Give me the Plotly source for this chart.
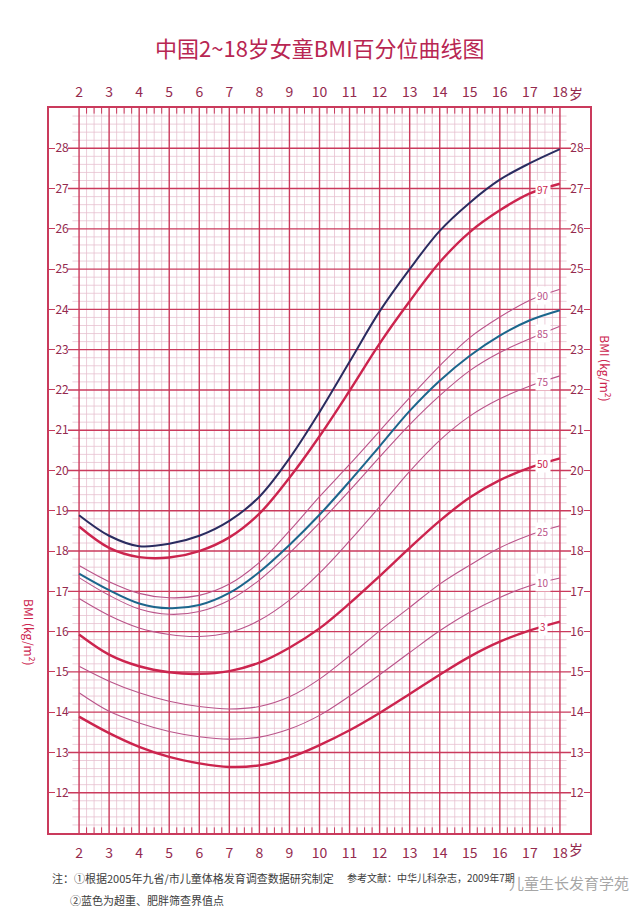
import numpy as np
import plotly.graph_objects as go

# ---------------- data ----------------
ages = list(range(2, 19))
p3 = [13.89, 13.48, 13.14, 12.89, 12.73, 12.64, 12.68, 12.87, 13.18, 13.55, 13.98, 14.45, 14.93, 15.38, 15.75, 16.03, 16.25]
p10 = [14.48, 14.02, 13.73, 13.52, 13.39, 13.33, 13.38, 13.58, 13.92, 14.40, 14.93, 15.48, 16.02, 16.48, 16.85, 17.14, 17.33]
p25 = [15.14, 14.77, 14.48, 14.27, 14.14, 14.08, 14.14, 14.38, 14.82, 15.40, 16.02, 16.60, 17.18, 17.65, 18.08, 18.40, 18.63]
p50 = [15.93, 15.43, 15.14, 14.99, 14.95, 15.02, 15.23, 15.60, 16.08, 16.70, 17.38, 18.08, 18.75, 19.33, 19.76, 20.07, 20.30]
p75 = [16.82, 16.40, 16.09, 15.93, 15.88, 15.98, 16.28, 16.78, 17.45, 18.25, 19.10, 19.98, 20.75, 21.35, 21.78, 22.10, 22.35]
p85 = [17.34, 16.90, 16.56, 16.43, 16.50, 16.78, 17.28, 17.95, 18.70, 19.50, 20.33, 21.14, 21.86, 22.48, 22.93, 23.27, 23.58]
p90 = [17.64, 17.24, 16.95, 16.84, 16.90, 17.18, 17.72, 18.50, 19.35, 20.15, 20.98, 21.81, 22.60, 23.30, 23.81, 24.23, 24.50]
p97 = [18.61, 18.08, 17.85, 17.84, 18.00, 18.34, 18.93, 19.82, 20.85, 21.98, 23.15, 24.20, 25.17, 25.92, 26.46, 26.88, 27.12]
overweight = [17.44, 17.03, 16.70, 16.58, 16.66, 16.96, 17.48, 18.15, 18.90, 19.73, 20.60, 21.48, 22.23, 22.85, 23.35, 23.73, 23.98]
obese = [18.89, 18.38, 18.12, 18.18, 18.38, 18.75, 19.35, 20.30, 21.45, 22.70, 23.95, 25.00, 25.95, 26.65, 27.22, 27.63, 27.98]

age_ticks = list(range(2, 19))
age_labels = [str(a) for a in age_ticks]
bmi_ticks = list(range(12, 29))
bmi_labels = [str(b) for b in bmi_ticks]

title_text = "中国2~18岁女童BMI百分位曲线图"
axis_title = "BMI (kg/m<sup>2</sup>)"
note1 = "注：①根据2005年九省/市儿童体格发育调查数据研究制定"
note2 = "②蓝色为超重、肥胖筛查界值点"
ref_text = "参考文献：中华儿科杂志，2009年7期"
watermark = "儿童生长发育学苑"

# ---------------- styles ----------------
CRIMSON = "rgb(204,36,78)"
MAUVE = "rgb(186,84,138)"
BLUE = "rgb(28,102,140)"
NAVY = "rgb(42,44,96)"
GRID_MAJOR = "rgb(202,58,92)"
GRID_MINOR = "rgb(230,190,206)"
LABEL = "rgb(148,42,78)"
FONT = "Noto Sans CJK SC"

XMIN, XMAX = 1, 19
YMIN, YMAX = 11, 29

fig = go.Figure()

# ---------------- grid built from axis spacing ----------------
def seg_trace(xs, ys, color, width):
    return go.Scatter(x=xs, y=ys, mode="lines", line=dict(color=color, width=width),
                      hoverinfo="skip", showlegend=False)

mx, my = [], []
for v in np.arange(2, 18.001, 0.25):
    if abs(v - round(v)) > 1e-6:
        mx += [v, v, None]
        my += [YMIN, YMAX, None]
for v in np.arange(YMIN, YMAX + 0.001, 0.2):
    if abs(v - round(v)) > 1e-6:
        mx += [1.78, 18.22, None]
        my += [v, v, None]
fig.add_trace(seg_trace(mx, my, GRID_MINOR, 0.75))

Mx, My = [], []
for v in range(2, 19):
    Mx += [v, v, None]
    My += [YMIN, YMAX, None]
for v in range(YMIN + 1, YMAX):
    Mx += [1.63, 18.37, None]
    My += [v, v, None]
fig.add_trace(seg_trace(Mx, My, GRID_MAJOR, 1.4))

# edge ticks at top and bottom
tx, ty = [], []
for v in np.arange(2, 18.001, 0.25):
    if abs(v - round(v)) > 1e-6:
        tx += [v, v, None, v, v, None]
        ty += [YMIN, YMIN + 0.14, None, YMAX - 0.14, YMAX, None]
fig.add_trace(seg_trace(tx, ty, GRID_MAJOR, 1.0))

# ---------------- curves ----------------
thin = dict(width=1.1, shape="spline", smoothing=1.0)
thick = dict(width=2.4, shape="spline", smoothing=1.0)
series = [
    ("10", p10, MAUVE, thin),
    ("25", p25, MAUVE, thin),
    ("75", p75, MAUVE, thin),
    ("85", p85, MAUVE, thin),
    ("90", p90, MAUVE, thin),
    ("3", p3, CRIMSON, thick),
    ("50", p50, CRIMSON, thick),
    ("97", p97, CRIMSON, thick),
]
for name, vals, col, st in series:
    fig.add_trace(go.Scatter(x=ages, y=vals, mode="lines", name="P" + name,
                             line=dict(color=col, **st), showlegend=False))
fig.add_trace(go.Scatter(x=ages, y=overweight, mode="lines", name="超重",
                         line=dict(color=BLUE, width=2.0, shape="spline", smoothing=1.0), showlegend=False))
fig.add_trace(go.Scatter(x=ages, y=obese, mode="lines", name="肥胖",
                         line=dict(color=NAVY, width=2.0, shape="spline", smoothing=1.0), showlegend=False))

# helper traces for the mirrored axes
fig.add_trace(go.Scatter(x=[XMIN], y=[YMIN], yaxis="y2", mode="markers",
                         marker=dict(opacity=0), hoverinfo="skip", showlegend=False))
fig.add_trace(go.Scatter(x=[XMIN], y=[YMIN], xaxis="x2", mode="markers",
                         marker=dict(opacity=0), hoverinfo="skip", showlegend=False))

annotations = []
LX = 17.42
for name, vals, col, st in series:
    yv = float(np.interp(LX, ages, vals))
    annotations.append(dict(x=LX, y=yv, xref="x", yref="y", text=name, showarrow=False,
                            font=dict(family=FONT, size=10, color=col),
                            bgcolor="white", borderpad=1, xanchor="center", yanchor="middle"))

# "岁" after 18 labels
for py in (1.0, 0.0):
    annotations.append(dict(x=18, y=py, xref="x", yref="paper", text="岁", showarrow=False,
                            font=dict(family=FONT, size=14, color=LABEL),
                            xshift=16, yshift=(15 if py == 1.0 else -16), xanchor="center", yanchor="middle"))

annotations += [
    dict(x=0.5, y=1.084, xref="paper", yref="paper", text=title_text, showarrow=False,
         font=dict(family=FONT, size=22, color="rgb(184,38,82)"), xanchor="center", yanchor="middle"),
    dict(x=-0.035, y=0.277, xref="paper", yref="paper", text=axis_title, showarrow=False, textangle=90,
         font=dict(family=FONT, size=12, color=CRIMSON), xanchor="center", yanchor="middle"),
    dict(x=1.0296, y=0.641, xref="paper", yref="paper", text=axis_title, showarrow=False, textangle=90,
         font=dict(family=FONT, size=12, color=CRIMSON), xanchor="center", yanchor="middle"),
    dict(x=0.002, y=-0.062, xref="paper", yref="paper", text=note1, showarrow=False,
         font=dict(family=FONT, size=11, color="rgb(60,60,60)"), xanchor="left", yanchor="middle"),
    dict(x=0.035, y=-0.0925, xref="paper", yref="paper", text=note2, showarrow=False,
         font=dict(family=FONT, size=11, color="rgb(60,60,60)"), xanchor="left", yanchor="middle"),
    dict(x=0.547, y=-0.062, xref="paper", yref="paper", text=ref_text, showarrow=False,
         font=dict(family=FONT, size=10, color="rgb(60,60,60)"), xanchor="left", yanchor="middle"),
    dict(x=0.962, y=-0.068, xref="paper", yref="paper", text=watermark, showarrow=False,
         font=dict(family=FONT, size=15, color="rgba(150,150,150,0.85)"),
         xanchor="center", yanchor="middle"),
]

xaxis_common = dict(range=[XMIN, XMAX], tickmode="array", tickvals=age_ticks, ticktext=age_labels,
                    ticks="", showgrid=False, zeroline=False, showline=True, linecolor=GRID_MAJOR,
                    linewidth=1.6, tickfont=dict(family=FONT, size=14, color=LABEL))
yaxis_common = dict(range=[YMIN, YMAX], tickmode="array", tickvals=bmi_ticks, ticktext=bmi_labels,
                    ticks="inside", ticklen=6, tickwidth=1.2, tickcolor=GRID_MAJOR,
                    ticklabelposition="inside", showgrid=False, zeroline=False,
                    showline=True, linecolor=GRID_MAJOR, linewidth=1.6,
                    tickfont=dict(family=FONT, size=12, color=LABEL))

fig.update_layout(
    width=640, height=910,
    margin=dict(l=49, r=50, t=108, b=77),
    paper_bgcolor="white", plot_bgcolor="white",
    xaxis=dict(**xaxis_common, side="bottom", mirror=True, ticklabelstandoff=6),
    xaxis2=dict(**xaxis_common, side="top", overlaying="x", ticklabelstandoff=4),
    yaxis=dict(**yaxis_common, side="left", mirror=True),
    yaxis2=dict(**yaxis_common, side="right", overlaying="y"),
    annotations=annotations,
    showlegend=False,
)

fig.write_html("out.html")
